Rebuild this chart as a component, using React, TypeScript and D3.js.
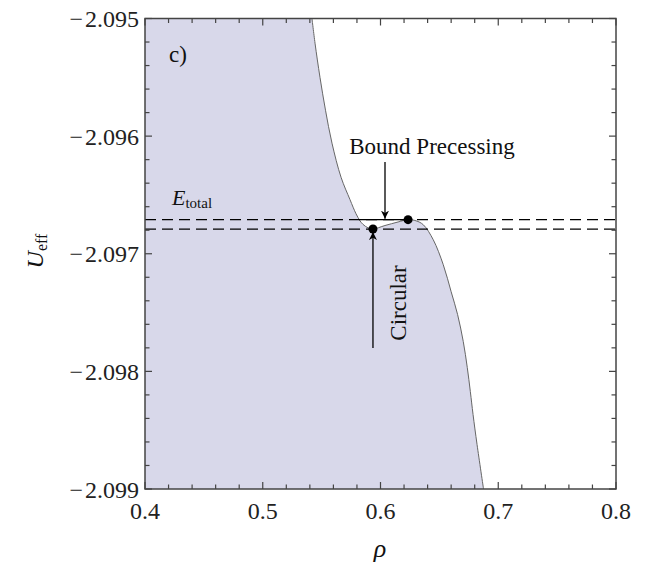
import React from "react";
import * as d3 from "d3";

// rho values of the effective potential curve
const rhoValues = [0.5418, 0.5444, 0.5486, 0.5533, 0.5588, 0.5665, 0.5741, 0.5792, 0.5826, 0.5851, 0.5894, 0.5936, 0.6038, 0.6149, 0.6234, 0.6302, 0.6364, 0.6448, 0.6533, 0.66, 0.6655, 0.6703, 0.6737, 0.6763, 0.6786, 0.682, 0.6875];
// U_eff values
const uValues = [-2.095, -2.09521, -2.0955, -2.09578, -2.09606, -2.09635, -2.09654, -2.09666, -2.09672, -2.09675, -2.09678, -2.09679, -2.09676, -2.09673, -2.09671, -2.09672, -2.096754, -2.096881, -2.097093, -2.097323, -2.097518, -2.097747, -2.097968, -2.098172, -2.098367, -2.098622, -2.099];

const xTicks = [0.4, 0.5, 0.6, 0.7, 0.8];
const xTickLabels = ["0.4", "0.5", "0.6", "0.7", "0.8"];
const yTicks = [-2.095, -2.096, -2.097, -2.098, -2.099];
const yTickLabels = ["\u2212\u200A2.095", "\u2212\u200A2.096", "\u2212\u200A2.097", "\u2212\u200A2.098", "\u2212\u200A2.099"];

const eTotal = -2.09671;
const uCircular = -2.09679;
const circularPoint = [0.5936, -2.09679];
const boundPoint = [0.6234, -2.09671];
const boundRange = [0.5817, 0.6234];

const W = 652, H = 566;
const L = 145, R = 616, T = 18.5, B = 489;
const FONT = "'Liberation Serif', 'Times New Roman', serif";

export default function App() {
  const x = d3.scaleLinear().domain([0.4, 0.8]).range([L, R]);
  const y = d3.scaleLinear().domain([-2.099, -2.095]).range([B, T]);
  const pts: [number, number][] = rhoValues.map((r, i) => [r, uValues[i]]);

  const line = d3.line<[number, number]>().x(d => x(d[0])).y(d => y(d[1])).curve(d3.curveCatmullRom.alpha(0.5));
  const linePath = line(pts) || "";
  const last = pts[pts.length - 1];
  const areaPath = `M${x(0.4)},${y(-2.095)}L` + linePath.slice(1) + `L${x(last[0])},${y(-2.099)}L${x(0.4)},${y(-2.099)}Z`;

  const minorX = d3.range(0, 21).map(i => 0.4 + i * 0.02);
  const minorY = d3.range(0, 21).map(i => -2.099 + i * 0.0002);

  const axisColor = "#444";
  return (
    <svg width={W} height={H} style={{ position: "absolute", left: 0, top: 0, background: "#fff" }}>
      <defs>
        <clipPath id="plot"><rect x={L} y={T} width={R - L} height={B - T} /></clipPath>
        <marker id="arr" viewBox="0 0 10 10" refX="10" refY="5" markerWidth="8" markerHeight="14" markerUnits="userSpaceOnUse" orient="auto">
          <path d="M0,0 L10,5 L0,10 L3,5 Z" fill="#000" />
        </marker>
      </defs>
      <g clipPath="url(#plot)">
        <path d={areaPath} fill="#d8d8ea" stroke="none" />
        <path d={linePath} fill="none" stroke="#666" strokeWidth={1} />
        <line x1={L} x2={R} y1={y(eTotal)} y2={y(eTotal)} stroke="#000" strokeWidth={1.2} strokeDasharray="11,6" />
        <line x1={L} x2={R} y1={y(uCircular)} y2={y(uCircular)} stroke="#000" strokeWidth={1.2} strokeDasharray="11,6" />
        <line x1={x(boundRange[0])} x2={x(boundRange[1])} y1={y(eTotal)} y2={y(eTotal)} stroke="#000" strokeWidth={1.2} />
      </g>
      <circle cx={x(circularPoint[0])} cy={y(circularPoint[1])} r={4.5} fill="#000" />
      <circle cx={x(boundPoint[0])} cy={y(boundPoint[1])} r={4.5} fill="#000" />
      {/* arrows */}
      <line x1={385} y1={162} x2={385} y2={y(eTotal) - 1} stroke="#000" strokeWidth={1.3} markerEnd="url(#arr)" />
      <line x1={x(circularPoint[0])} y1={348} x2={x(circularPoint[0])} y2={y(circularPoint[1]) + 3} stroke="#000" strokeWidth={1.3} markerEnd="url(#arr)" />
      {/* frame */}
      <rect x={L} y={T} width={R - L} height={B - T} fill="none" stroke={axisColor} strokeWidth={1.5} />
      {minorX.map((v, i) => {
        const len = i % 5 === 0 ? 7 : 4.5;
        const px = x(v);
        return (
          <g key={"x" + i}>
            <line x1={px} x2={px} y1={B} y2={B - len} stroke={axisColor} strokeWidth={1.2} />
            <line x1={px} x2={px} y1={T} y2={T + len} stroke={axisColor} strokeWidth={1.2} />
          </g>
        );
      })}
      {minorY.map((v, i) => {
        const len = i % 5 === 0 ? 7 : 4.5;
        const py = y(v);
        return (
          <g key={"y" + i}>
            <line x1={L} x2={L + len} y1={py} y2={py} stroke={axisColor} strokeWidth={1.2} />
            <line x1={R} x2={R - len} y1={py} y2={py} stroke={axisColor} strokeWidth={1.2} />
          </g>
        );
      })}
      {xTicks.map((v, i) => (
        <text key={"xl" + i} x={x(v)} y={519} textAnchor="middle" fontFamily={FONT} fontSize={24} fill="#222">{xTickLabels[i]}</text>
      ))}
      {yTicks.map((v, i) => (
        <text key={"yl" + i} x={139} y={y(v) + 8.5} textAnchor="end" fontFamily={FONT} fontSize={24} fill="#222">{yTickLabels[i]}</text>
      ))}
      {/* labels */}
      <text x={169} y={62} fontFamily={FONT} fontSize={23} fill="#111">c)</text>
      <text x={172} y={205} fontFamily={FONT} fontSize={22} fill="#111">
        <tspan fontStyle="italic">E</tspan>
        <tspan fontSize={15} dy={3}>total</tspan>
      </text>
      <text x={432} y={154} textAnchor="middle" fontFamily={FONT} fontSize={23} fill="#111">Bound Precessing</text>
      <text transform="translate(406,303) rotate(-90)" textAnchor="middle" fontFamily={FONT} fontSize={23} fill="#111">Circular</text>
      <text transform="translate(43,251) rotate(-90)" textAnchor="middle" fontFamily={FONT} fontSize={24} fill="#111">
        <tspan fontStyle="italic">U</tspan>
        <tspan fontSize={16} dy={4}>eff</tspan>
      </text>
      <text x={380} y={557} textAnchor="middle" fontFamily={FONT} fontSize={26} fontStyle="italic" fill="#111">ρ</text>
    </svg>
  );
}
